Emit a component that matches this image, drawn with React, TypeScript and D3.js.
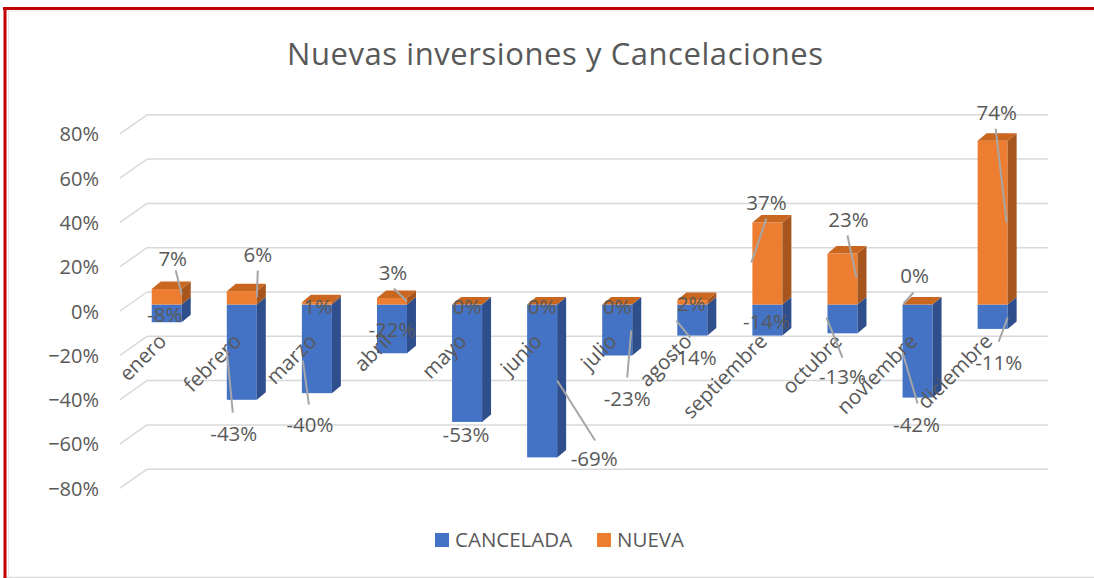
import React from "react";
import * as d3 from "d3";

const months = ["enero","febrero","marzo","abril","mayo","junio","julio","agosto","septiembre","octubre","noviembre","diciembre"];
const cancelada = [-8,-43,-40,-22,-53,-69,-23,-14,-14,-13,-42,-11];
const nueva = [7,6,1,3,0,0,0,2,37,23,0,74];
const ticks = [-80,-60,-40,-20,0,20,40,60,80];
const seriesNames = ["CANCELADA","NUEVA"];
const title = "Nuevas inversiones y Cancelaciones";

// label placement (manually dragged labels in original), relative to bar centre / zero line
const nuevaLabelOff: [number, number][] = [[6,-47],[16,-51],[1,1],[1,-33],[0,1],[0,1],[0,1],[-1,-2],[-1,-103],[6,-86],[-3,-30],[4,-193]];
const cancelLabelOff: [number, number][] = [[-2,9],[-8,128],[-7,119],[0,24],[-1,129],[52,153],[10,93],[1,52],[-1,16],[0,71],[-1,119],[6,57]];
const nuevaLeader: (number[] | null)[] = [[9,-34,15,-10],[16,-34,15,-7],null,[2,-16,15,-3],null,null,null,null,[-1,-86,-16,-42],[5,-69,14,-27],[-4,-12,-14,-1],[3,-176,14,-82]];
const cancelLeader: (number[] | null)[] = [null,[-15,46,-9,108],[-14,56,-8,100],null,null,[15,76,53,136],[14,26,10,73],[-16,16,-2,33],null,[-16,13,0,53],[-15,48,0,99],[15,13,6,37]];

const W = 1094, H = 578;
const FONT = "'Open Sans', sans-serif";
const TXT = "#595959";
const GRID = "#d9d9d9";

export default function App() {
  const y = d3.scaleLinear().domain([-80, 80]).range([469.2, 114.8]); // back-wall y
  const depthX = 27, depthY = 19; // floor depth
  const wallX0 = 147, wallX1 = 1048;
  const frontX0 = wallX0 - depthX;
  const x = d3.scaleBand().domain(months).range([wallX0, wallX1]).padding(0);
  const barFrac = 0.66; // bar front plane position (fraction of depth from back)
  const bw = 30, bdx = 9, bdy = 7.5;
  const cxOf = (m: string) => (x(m) as number) + x.bandwidth() / 2 - depthX * barFrac;
  const yf = (v: number) => y(v) + depthY * barFrac;
  const zero = yf(0);

  const bars = months.map((m, i) => {
    const cx = cxOf(m);
    const xl = cx - bw / 2, xr = cx + bw / 2;
    const c = cancelada[i], n = nueva[i];
    const yc = yf(c), yn = yf(n);
    return (
      <g key={m}>
        <rect x={xl} y={zero} width={bw} height={yc - zero} fill="#4472c4" />
        <polygon points={`${xr},${zero} ${xr + bdx},${zero - bdy} ${xr + bdx},${yc - bdy} ${xr},${yc}`} fill="#2f4f8c" />
        <rect x={xl} y={yn} width={bw} height={zero - yn} fill="#ed7d31" />
        <polygon points={`${xr},${yn} ${xr + bdx},${yn - bdy} ${xr + bdx},${zero - bdy} ${xr},${zero}`} fill="#a6561d" />
        <polygon points={`${xl},${yn} ${xl + bdx},${yn - bdy} ${xr + bdx},${yn - bdy} ${xr},${yn}`} fill="#c9661f" />
      </g>
    );
  });

  const labels = months.map((m, i) => {
    const cx = cxOf(m);
    const nl = nuevaLeader[i], cl = cancelLeader[i];
    return (
      <g key={"l" + m}>
        {nl && <line x1={cx + nl[0]} y1={zero + nl[1]} x2={cx + nl[2]} y2={zero + nl[3]} stroke="#a6a6a6" strokeWidth={2} />}
        {cl && <line x1={cx + cl[0]} y1={zero + cl[1]} x2={cx + cl[2]} y2={zero + cl[3]} stroke="#a6a6a6" strokeWidth={2} />}
        <text x={cx + nuevaLabelOff[i][0]} y={zero + nuevaLabelOff[i][1]} textAnchor="middle" dominantBaseline="central" fontSize={20.5} fill={TXT} fontFamily={FONT}>{nueva[i]}%</text>
        <text x={cx + cancelLabelOff[i][0]} y={zero + cancelLabelOff[i][1]} textAnchor="middle" dominantBaseline="central" fontSize={20.5} fill={TXT} fontFamily={FONT}>{cancelada[i]}%</text>
      </g>
    );
  });

  const cats = months.map((m) => {
    const cx = cxOf(m);
    const tx = cx + 1, ty = zero + 38;
    return (
      <text key={"c" + m} x={tx} y={ty} transform={`rotate(-45 ${tx} ${ty})`} textAnchor="end" fontSize={20.5} fill={TXT} fontFamily={FONT}>{m}</text>
    );
  });

  return (
    <div style={{ position: "absolute", left: 0, top: 0, width: W, height: H }}>
      <svg width={W} height={H} style={{ display: "block", background: "#fff" }}>
        <line x1={3} y1={577.5} x2={W} y2={577.5} stroke="#d9d9d9" strokeWidth={1.5} />
        <line x1={8} y1={11} x2={W} y2={11} stroke="#e6e6e6" strokeWidth={1} />
        <line x1={8.5} y1={11} x2={8.5} y2={H} stroke="#e6e6e6" strokeWidth={1} />
        <line x1={3} y1={8.5} x2={W} y2={8.5} stroke="#c00000" strokeWidth={3} />
        <line x1={5} y1={7} x2={5} y2={H} stroke="#c00000" strokeWidth={3} />

        <text x={555} y={65} textAnchor="middle" fontSize={31} textLength={536} lengthAdjust="spacing" fill={TXT} fontFamily={FONT}>{title}</text>

        {ticks.map((t) => (
          <g key={"g" + t}>
            <line x1={frontX0} y1={y(t) + depthY} x2={wallX0} y2={y(t)} stroke={GRID} strokeWidth={1.5} />
            <line x1={wallX0} y1={y(t)} x2={wallX1} y2={y(t)} stroke={GRID} strokeWidth={1.5} />
            <text x={99} y={y(t) + depthY} textAnchor="end" dominantBaseline="central" fontSize={20} fill={TXT} fontFamily={FONT}>{d3.format("d")(t)}%</text>
          </g>
        ))}

        {bars}
        {cats}
        {labels}

        <g fontFamily={FONT} fontSize={20.5} fill={TXT}>
          <rect x={435} y={533} width={14} height={14} fill="#4472c4" />
          <text x={455} y={547}>{seriesNames[0]}</text>
          <rect x={597} y={533} width={14} height={14} fill="#ed7d31" />
          <text x={617} y={547}>{seriesNames[1]}</text>
        </g>
      </svg>
    </div>
  );
}
